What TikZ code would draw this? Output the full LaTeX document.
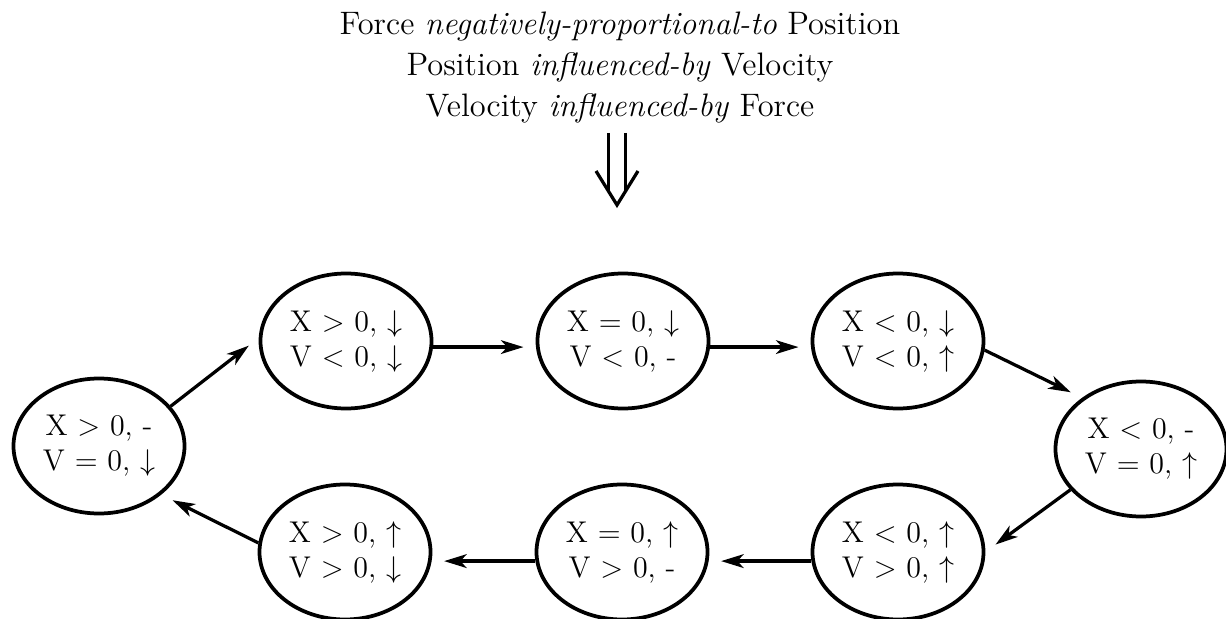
\documentclass[tikz,border=0pt]{standalone}
\usepackage{amsmath,amssymb}
\usepackage{tikz}
\usetikzlibrary{arrows.meta,positioning,calc,shapes.geometric}

\begin{document}
\begin{tikzpicture}[
	x=0.4pt,y=-0.4pt,
	state/.style={
		draw,
		ellipse,
		line width=1.5pt,
		minimum width=68.4pt,
		minimum height=54pt,
		inner sep=0pt,
		align=center,
		font=\fontsize{12}{14}\selectfont
	},
	trans/.style={
		line width=1.3pt,
		-{Stealth[length=9pt,width=5.5pt,inset=2.5pt]},
		shorten >=5pt
	}
	]
	
	\useasboundingbox (0,0) rectangle (1226,619);
	
	\node[
	align=center,
	anchor=north,
	inner sep=0pt,
	font=\fontsize{13}{16.4}\selectfont
	]
	(law)
	at (620,11)
	{Force \textit{negatively-proportional-to} Position\\
		Position \textit{influenced-by} Velocity\\
		Velocity \textit{influenced-by} Force};
	
	% the big double arrow
	\coordinate (dtop) at (617,133);
	\coordinate (dtip) at (617,205);
	\draw[line width=1.3pt] ($(dtop)+(-8.5,0)$) -- ($(dtip)+(-8.5,-14)$);
	\draw[line width=1.3pt] ($(dtop)+(8.5,0)$) -- ($(dtip)+(8.5,-14)$);
	\draw[line width=1.3pt] ($(dtip)+(-21,-34)$) -- (dtip) -- ($(dtip)+(21,-34)$);
	
	\node[state] (maxpos) at (99,446) {X $>$ 0, -\\V $=$ 0, $\downarrow$};
	
	\node[state] (pdown) at (346,341) {X $>$ 0, $\downarrow$\\V $<$ 0, $\downarrow$};
	\node[state] (zdown) at (623,341) {X $=$ 0, $\downarrow$\\V $<$ 0, -};
	\node[state] (ndown) at (898,341) {X $<$ 0, $\downarrow$\\V $<$ 0, $\uparrow$};
	
	\node[state] (minpos) at (1141,449) {X $<$ 0, -\\V $=$ 0, $\uparrow$};
	
	\node[state] (nup) at (898,552) {X $<$ 0, $\uparrow$\\V $>$ 0, $\uparrow$};
	\node[state] (zup) at (622,552) {X $=$ 0, $\uparrow$\\V $>$ 0, -};
	\node[state] (pup) at (345,552) {X $>$ 0, $\uparrow$\\V $>$ 0, $\downarrow$};
	
	\draw[trans] (maxpos.29) -- (pdown.178);
	\draw[trans] (pdown.-4) -- (zdown.184);
	\draw[trans] (zdown.-4) -- (ndown.184);
	\draw[trans] (ndown.-6) -- (minpos.139);
	\draw[trans] (minpos.210) -- (nup.0);
	\draw[trans] (nup.186) -- (zup.-6);
	\draw[trans] (zup.186) -- (pup.-6);
	\draw[trans] (pup.174) -- (maxpos.-38);
	
\end{tikzpicture}
\end{document}
